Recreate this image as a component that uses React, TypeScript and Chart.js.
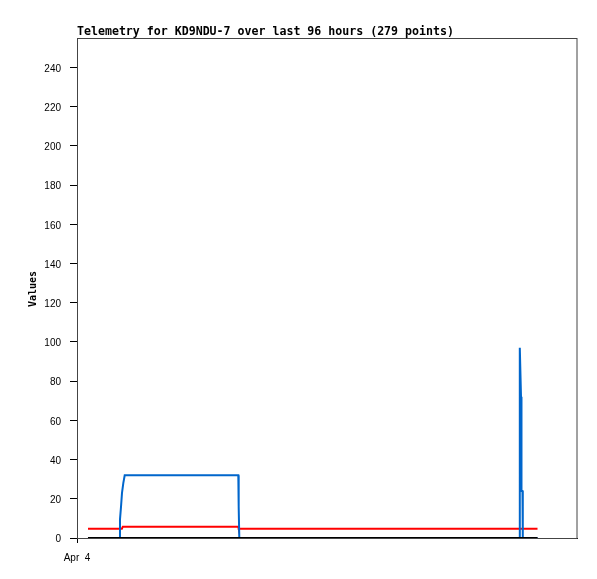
import React, { useEffect, useRef } from "react";
import { Chart, registerables } from "chart.js";

Chart.register(...registerables);

// x values are hours from Apr 4 00:00
const titleText = "Telemetry for KD9NDU-7 over last 96 hours (279 points)";
const yAxisTitle = "Values";
const xTickValues = [0];
const xTickLabels = ["Apr  4"];
const yTickValues = [0, 20, 40, 60, 80, 100, 120, 140, 160, 180, 200, 220, 240];
const xMin = 0;
const xMax = 107;
const yMin = 0;
const yMax = 255;

const blackHours = [2.35, 98.55];
const blackValues = [0, 0];

const blueHours = [2.35, 8.99, 9.2, 9.42, 9.63, 9.91, 10.21, 34.52, 34.6, 34.73, 94.65, 94.72, 94.8, 95.02, 95.12, 95.33, 95.4, 98.55];
const blueValues = [0, 0, 9.5, 16, 23, 28, 32, 32, 16, 0, 0, 48, 97, 72, 24, 24, 0, 0];

const redHours = [2.35, 9.6, 9.8, 34.5, 34.6, 98.55];
const redValues = [4.7, 4.7, 5.8, 5.8, 4.7, 4.7];

const toPoints = (xs: number[], ys: number[]) => xs.map((x, i) => ({ x, y: ys[i] }));

const tickFont = { family: "'Liberation Sans', Arial, sans-serif", size: 10 };

export default function App() {
  const ref = useRef<HTMLCanvasElement | null>(null);
  useEffect(() => {
    if (!ref.current) return;
    const framePlugin = {
      id: "frameAndText",
      afterDraw(chart: any) {
        const { ctx, chartArea } = chart;
        ctx.save();
        ctx.strokeStyle = "#444";
        ctx.lineWidth = 1;
        ctx.strokeRect(chartArea.left + 0.5, chartArea.top + 0.5, chartArea.right - chartArea.left - 0.5, chartArea.bottom - chartArea.top);
        ctx.fillStyle = "#000";
        ctx.font = "bold 11.6px 'DejaVu Sans Mono', monospace";
        ctx.textAlign = "left";
        ctx.textBaseline = "alphabetic";
        ctx.fillText(titleText, chartArea.left, 35);
        ctx.translate(33, (chartArea.top + chartArea.bottom) / 2 + 1);
        ctx.rotate(-Math.PI / 2);
        ctx.font = "bold 10px 'DejaVu Sans Mono', monospace";
        ctx.textAlign = "center";
        ctx.textBaseline = "middle";
        ctx.fillText(yAxisTitle, 0, 0);
        ctx.restore();
      },
    };
    const chart = new Chart(ref.current, {
      type: "line",
      data: {
        datasets: [
          { data: toPoints(blackHours, blackValues), borderColor: "#000", order: 0 },
          { data: toPoints(blueHours, blueValues), borderColor: "#0066cc", order: 1 },
          { data: toPoints(redHours, redValues), borderColor: "#ff0000", order: 2 },
        ] as any,
      },
      options: {
        animation: false,
        responsive: false,
        devicePixelRatio: 1,
        layout: { padding: { top: 38, right: 20, left: 0, bottom: 0 } },
        elements: {
          point: { radius: 0, hoverRadius: 0 },
          line: { borderWidth: 2, tension: 0, fill: false },
        },
        plugins: { legend: { display: false }, title: { display: false }, tooltip: { enabled: false } },
        scales: {
          x: {
            type: "linear",
            min: xMin,
            max: xMax,
            afterFit: (s: any) => { s.height = 41; },
            afterBuildTicks: (s: any) => { s.ticks = xTickValues.map((v) => ({ value: v })); },
            ticks: {
              callback: (_v: any, i: number) => xTickLabels[i],
              font: tickFont,
              color: "#000",
              padding: 9,
              maxRotation: 0,
              autoSkip: false,
            },
            grid: { drawOnChartArea: false, drawTicks: true, tickLength: 5, color: "#000" },
            border: { display: true, color: "#000" },
          },
          y: {
            type: "linear",
            min: yMin,
            max: yMax,
            afterFit: (s: any) => { s.width = 77; },
            afterBuildTicks: (s: any) => { s.ticks = yTickValues.map((v) => ({ value: v })); },
            ticks: { font: tickFont, color: "#000", padding: 9, autoSkip: false, labelOffset: 1.5 },
            grid: { drawOnChartArea: false, drawTicks: true, tickLength: 7, color: "#000" },
            border: { display: true, color: "#000" },
          },
        },
      },
      plugins: [framePlugin],
    });
    return () => chart.destroy();
  }, []);
  return (
    <div style={{ position: "absolute", left: 0, top: 0, width: 597, height: 579, background: "#fff" }}>
      <canvas ref={ref} width={597} height={579} style={{ width: 597, height: 579, display: "block" }} />
    </div>
  );
}
